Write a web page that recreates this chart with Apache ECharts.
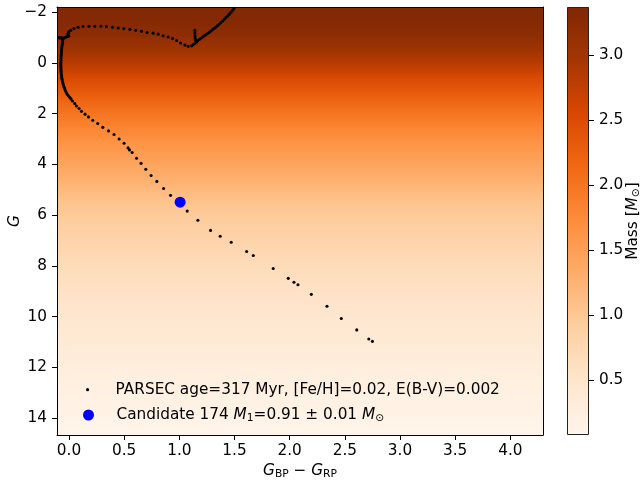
<!DOCTYPE html>
<html><head><meta charset="utf-8">
<script src="https://cdn.jsdelivr.net/npm/echarts@6/dist/echarts.min.js"></script>
<style>html,body{margin:0;padding:0;background:#fff}#c{width:642px;height:483px}</style>
</head><body><div id="c"></div>
<script>
// Isochrone (PARSEC) points: colour G_BP-G_RP and magnitude G
const isoColor = [
 2.750,2.717,2.608,2.468,2.338,2.196,2.075,2.039,1.987,1.851,1.670,1.610,1.470,1.370,1.283,1.168,1.071,0.920,0.857,0.796,0.744,0.696,0.653,0.612,0.572,0.548,0.535,0.499,0.454,0.408,0.358,0.306,0.260,0.215,0.176,0.145,0.113,0.091,0.067,0.052,0.031,
 0.018,0.006,-0.006,-0.016,-0.025,-0.032,-0.038,-0.044,-0.049,-0.054,-0.058,-0.062,-0.065,-0.067,-0.069,-0.071,-0.072,-0.073,-0.073,-0.074,-0.074,-0.074,-0.073,-0.073,-0.072,-0.071,-0.070,-0.069,-0.067,-0.066,-0.064,-0.062,-0.060,-0.058,-0.056,
 -0.091,-0.085,-0.078,-0.068,-0.058,-0.047,-0.036,-0.025,-0.013,-0.002,-0.010,-0.008,
 -0.003,0.015,0.045,0.082,0.127,0.181,0.233,0.288,0.339,0.394,0.445,0.496,0.551,0.605,0.657,0.708,0.762,0.808,0.853,0.898,0.938,0.975,1.011,1.050,1.080,1.111,
 1.126,1.141,1.156,1.165,1.180,1.195,1.211,1.225,1.240,1.255,1.270,1.285,1.301,1.316,1.331,1.346,1.361,1.376,1.392,1.407,1.422,1.437,1.452,1.467,1.483,1.495,
 1.141,1.141,1.142,1.144,1.147
];
const isoG = [
 10.97,10.88,10.52,10.07,9.59,9.12,8.74,8.64,8.49,8.10,7.59,7.43,7.07,6.83,6.60,6.20,5.84,5.22,4.95,4.67,4.44,4.19,3.96,3.76,3.53,3.43,3.35,3.17,3.00,2.82,2.68,2.54,2.39,2.26,2.13,2.02,1.91,1.80,1.70,1.60,1.50,
 1.42,1.36,1.30,1.24,1.17,1.10,1.03,0.96,0.89,0.82,0.75,0.68,0.61,0.54,0.47,0.40,0.33,0.26,0.19,0.12,0.05,-0.02,-0.09,-0.16,-0.23,-0.30,-0.37,-0.44,-0.51,-0.58,-0.65,-0.72,-0.79,-0.86,-0.93,
 -1.00,-0.98,-0.98,-0.99,-0.97,-0.98,-1.00,-1.02,-1.04,-1.06,-1.10,-1.16,
 -1.22,-1.28,-1.35,-1.40,-1.43,-1.44,-1.44,-1.44,-1.43,-1.40,-1.37,-1.35,-1.32,-1.28,-1.24,-1.20,-1.17,-1.13,-1.07,-1.02,-0.96,-0.88,-0.78,-0.70,-0.65,-0.67,
 -0.72,-0.76,-0.82,-0.87,-0.92,-0.97,-1.02,-1.065,-1.11,-1.155,-1.20,-1.255,-1.31,-1.36,-1.41,-1.465,-1.52,-1.585,-1.65,-1.715,-1.78,-1.845,-1.91,-1.99,-2.07,-2.15,
 -1.28,-1.18,-1.07,-0.97,-0.88
];
// Candidate star
const candColor = [1.007];
const candG = [5.49];
// Background mass map (mass as a function of G)
const bgG    = [-2.2, -1.5, -1.0, -0.5, 0.0, 0.5, 1.0, 1.5, 2.0, 2.5, 3.0, 3.5, 4.0, 4.5, 5.0, 5.5, 6.0, 7.0, 8.0, 9.0, 10.0, 11.0, 12.0, 13.0, 14.0, 14.66];
const bgMass = [3.35, 3.29, 3.19, 3.02, 2.82, 2.58, 2.37, 2.17, 1.99, 1.83, 1.68, 1.55, 1.43, 1.30, 1.17, 1.05, 0.96, 0.82, 0.68, 0.56, 0.46, 0.37, 0.28, 0.20, 0.13, 0.09];
// Ticks
const xTicks = [0.0, 0.5, 1.0, 1.5, 2.0, 2.5, 3.0, 3.5, 4.0];
const yTicks = [-2, 0, 2, 4, 6, 8, 10, 12, 14];
const cbTicks = [0.5, 1.0, 1.5, 2.0, 2.5, 3.0];
const isoName = 'PARSEC age=317 Myr, [Fe/H]=0.02, E(B-V)=0.002';
const candName = 'Candidate 174';

const xMin = -0.109, xMax = 4.296, yMin = -2.2, yMax = 14.66;
const massMin = 0.077, massMax = 3.372;
const oranges = ['#fff5eb','#fee6ce','#fdd0a2','#fdae6b','#fd8d3c','#f16913','#d94801','#a63603','#7f2704'];
const FONT = 'DejaVu Sans';
const FS = 15.3;
const cmap = m => echarts.color.lerp(Math.min(1, Math.max(0, (m - massMin) / (massMax - massMin))), oranges);

const bgData = [];
for (let i = 0; i < bgG.length - 1; i++) bgData.push([xMin, xMax, bgG[i], bgG[i + 1], bgMass[i], bgMass[i + 1]]);

const rich = {
  i: { fontStyle: 'italic', fontSize: FS, fontFamily: FONT, color: '#000' },
  s: { fontSize: 10.7, fontFamily: FONT, color: '#000', padding: [6, 0, 0, 0] },
  n: { fontSize: FS, fontFamily: FONT, color: '#000' }
};
const lineOnly = (pos, gi, min, max) => ({
  gridIndex: gi, type: 'value', position: pos, min: min, max: max,
  axisLine: { show: true, onZero: false, lineStyle: { color: '#000', width: 1 } },
  axisTick: { show: false }, axisLabel: { show: false }, splitLine: { show: false }
});

const chart = echarts.init(document.getElementById('c'));
chart.setOption({
  animation: false,
  backgroundColor: '#fff',
  grid: [
    { left: 57, top: 7, width: 486, height: 428, containLabel: false, outerBoundsMode: 'none' },
    { left: 567, top: 7, width: 22, height: 428, containLabel: false, outerBoundsMode: 'none' }
  ],
  xAxis: [
    {
      gridIndex: 0, type: 'value', min: xMin, max: xMax, position: 'bottom',
      axisLine: { show: true, onZero: false, lineStyle: { color: '#000', width: 1 } },
      axisTick: { show: true, length: 5, customValues: xTicks, lineStyle: { color: '#000' } },
      axisLabel: { customValues: xTicks, formatter: v => v.toFixed(1), color: '#000', fontSize: FS, fontFamily: FONT, margin: 9 },
      splitLine: { show: false },
      name: '{i|G}{s|BP}{n| − }{i|G}{s|RP}', nameLocation: 'middle', nameGap: 28, nameMoveOverlap: false,
      nameTextStyle: { rich: rich, fontSize: FS, fontFamily: FONT, color: '#000' }
    },
    lineOnly('top', 0, xMin, xMax),
    { gridIndex: 1, type: 'value', min: 0, max: 1, show: false }
  ],
  yAxis: [
    {
      gridIndex: 0, type: 'value', min: yMin, max: yMax, inverse: true, position: 'left',
      axisLine: { show: true, onZero: false, lineStyle: { color: '#000', width: 1 } },
      axisTick: { show: true, length: 5, customValues: yTicks, lineStyle: { color: '#000' } },
      axisLabel: { customValues: yTicks, formatter: v => (v < 0 ? '\u2212' + Math.abs(v) : String(v)), color: '#000', fontSize: FS, fontFamily: FONT, margin: 10 },
      splitLine: { show: false },
      name: '{i|G}', nameLocation: 'middle', nameGap: 34, nameRotate: 90, nameMoveOverlap: false,
      nameTextStyle: { rich: rich, fontSize: FS, fontFamily: FONT, color: '#000' }
    },
    lineOnly('right', 0, yMin, yMax),
    {
      gridIndex: 1, type: 'value', min: massMin, max: massMax, position: 'right',
      axisLine: { show: false, onZero: false },
      axisTick: { show: true, length: 5, customValues: cbTicks, lineStyle: { color: '#000' } },
      axisLabel: { customValues: cbTicks, formatter: v => v.toFixed(1), color: '#000', fontSize: FS, fontFamily: FONT, margin: 10 },
      splitLine: { show: false },
      name: '{n|Mass [}{i|M}{s|⊙}{n|]}', nameLocation: 'middle', nameGap: 36, nameRotate: 90, nameMoveOverlap: false,
      nameTextStyle: { rich: rich, fontSize: FS, fontFamily: FONT, color: '#000' }
    }
  ],
  legend: [
    {
      data: [isoName], left: 86, top: 382.2, padding: 0, itemWidth: 46, itemHeight: 3.2,
      icon: 'circle', selectedMode: false,
      textStyle: { fontSize: FS, fontFamily: FONT, color: '#000' }
    },
    {
      data: [candName], left: 83, top: 407.5, padding: 0, itemWidth: 46, itemHeight: 11,
      icon: 'circle', selectedMode: false,
      formatter: () => '{n|Candidate 174 }{i|M}{s|1}{n|=0.91 ± 0.01 }{i|M}{s|⊙}',
      textStyle: { rich: rich, fontSize: FS, fontFamily: FONT, color: '#000' }
    }
  ],
  series: [
    {
      type: 'custom', xAxisIndex: 0, yAxisIndex: 0, silent: true, z: 0,
      data: bgData, encode: { x: [0, 1], y: [2, 3] },
      renderItem: (params, api) => {
        const p0 = api.coord([api.value(0), api.value(2)]);
        const p1 = api.coord([api.value(1), api.value(3)]);
        return {
          type: 'rect',
          shape: { x: p0[0], y: p0[1], width: p1[0] - p0[0], height: p1[1] - p0[1] + 1 },
          style: { fill: new echarts.graphic.LinearGradient(0, 0, 0, 1, [
            { offset: 0, color: cmap(api.value(4)) }, { offset: 1, color: cmap(api.value(5)) }
          ]) }
        };
      }
    },
    {
      type: 'custom', xAxisIndex: 2, yAxisIndex: 2, silent: true,
      data: [[0, 1, massMin, massMax]], encode: { x: [0, 1], y: [2, 3] },
      renderItem: (params, api) => {
        const p0 = api.coord([api.value(0), api.value(3)]);
        const p1 = api.coord([api.value(1), api.value(2)]);
        return {
          type: 'rect',
          shape: { x: p0[0] + 0.5, y: p0[1] + 0.5, width: p1[0] - p0[0] - 1, height: p1[1] - p0[1] - 1 },
          style: {
            fill: new echarts.graphic.LinearGradient(0, 1, 0, 0, oranges.map((c, k) => ({ offset: k / (oranges.length - 1), color: c }))),
            stroke: '#222', lineWidth: 1
          }
        };
      }
    },
    {
      name: isoName, type: 'scatter', xAxisIndex: 0, yAxisIndex: 0, z: 3,
      symbol: 'circle', symbolSize: 3.1, itemStyle: { color: '#000', opacity: 1 },
      data: isoColor.map((c, i) => [c, isoG[i]])
    },
    {
      name: candName, type: 'scatter', xAxisIndex: 0, yAxisIndex: 0, z: 4,
      symbol: 'circle', symbolSize: 11, itemStyle: { color: '#0000ff', opacity: 1 },
      data: candColor.map((c, i) => [c, candG[i]])
    }
  ]
});
</script>
</body></html>
